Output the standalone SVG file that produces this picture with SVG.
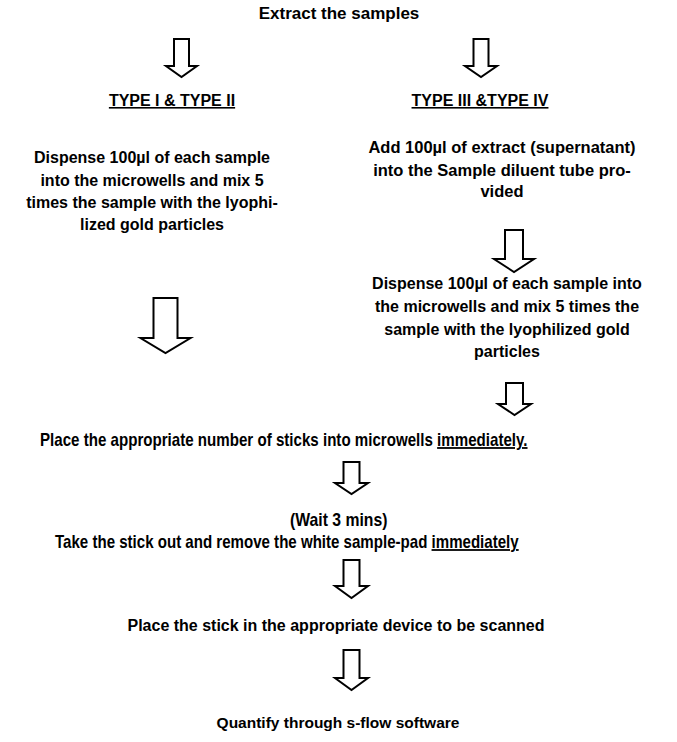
<svg xmlns="http://www.w3.org/2000/svg" width="677" height="742" viewBox="0 0 677 742">
<style>
.t{font-family:"Liberation Sans",Arial,sans-serif;font-weight:bold;font-size:16px;fill:#000;text-anchor:middle}
.n{font-family:"Liberation Sans",Arial,sans-serif;font-weight:bold;font-size:18px;fill:#000}
.u{text-decoration:underline}
.a{fill:#fff;stroke:#000;stroke-width:2;stroke-linejoin:miter}
</style>
<rect width="677" height="742" fill="#fff"/>
<g id="nodes">
<g id="n-extract"><text class="t" x="339" y="19" style="font-size:17px">Extract the samples</text></g>
<g id="n-type12"><text class="t u" x="172" y="106">TYPE I &amp; TYPE II</text></g>
<g id="n-type34"><text class="t u" x="480" y="106">TYPE III &amp;TYPE IV</text></g>
<g id="n-left-dispense"><text class="t" x="152" y="163">Dispense 100µl of each sample</text><text class="t" x="152" y="186">into the microwells and mix 5</text><text class="t" x="152" y="208">times the sample with the lyophi-</text><text class="t" x="152" y="230">lized gold particles</text></g>
<g id="n-add"><text class="t" x="502" y="153" style="font-size:16.5px">Add 100µl of extract (supernatant)</text><text class="t" x="502" y="176" style="font-size:16.5px">into the Sample diluent tube pro-</text><text class="t" x="502" y="197" style="font-size:16.5px">vided</text></g>
<g id="n-right-dispense"><text class="t" x="507" y="289">Dispense 100µl of each sample into</text><text class="t" x="507" y="312">the microwells and mix 5 times the</text><text class="t" x="507" y="335">sample with the lyophilized gold</text><text class="t" x="507" y="357">particles</text></g>
<g id="n-place" transform="translate(40,446) scale(0.84,1)"><text class="n" x="0" y="0">Place the appropriate number of sticks into microwells <tspan class="u">immediately.</tspan></text></g>
<g id="n-wait"><g transform="translate(290,526) scale(0.875,1)"><text class="n" x="0" y="0">(Wait 3 mins)</text></g><g transform="translate(55,548) scale(0.8376,1)"><text class="n" x="0" y="0">Take the stick out and remove the white sample-pad <tspan class="u">immediately</tspan></text></g></g>
<g id="n-scan"><text class="t" x="336" y="631">Place the stick in the appropriate device to be scanned</text></g>
<g id="n-quantify"><text class="t" x="338" y="728" style="font-size:15.5px">Quantify through s-flow software</text></g>
</g>
<g id="connectors">
<polygon class="a" points="174,39 189,39 189,66 197,66 181.5,77 166,66 174,66"/>
<polygon class="a" points="473.5,39 488.5,39 488.5,66 497,66 481,77 465,66 473.5,66"/>
<polygon class="a" points="505,230 523,230 523,259 534,259 514,272 494,259 505,259"/>
<polygon class="a" points="153.5,298 177.5,298 177.5,338 190.5,338 165.5,353 140.5,338 153.5,338"/>
<polygon class="a" points="506,383 523,383 523,404 531,404 514.5,415 498,404 506,404"/>
<polygon class="a" points="343.5,462 359.5,462 359.5,483 368,483 351.5,494 335,483 343.5,483"/>
<polygon class="a" points="343.5,560 359.5,560 359.5,586 368,586 351.5,598 335,586 343.5,586"/>
<polygon class="a" points="343.5,650 359.5,650 359.5,678 368,678 351.5,690 335,678 343.5,678"/>
</g>
</svg>
